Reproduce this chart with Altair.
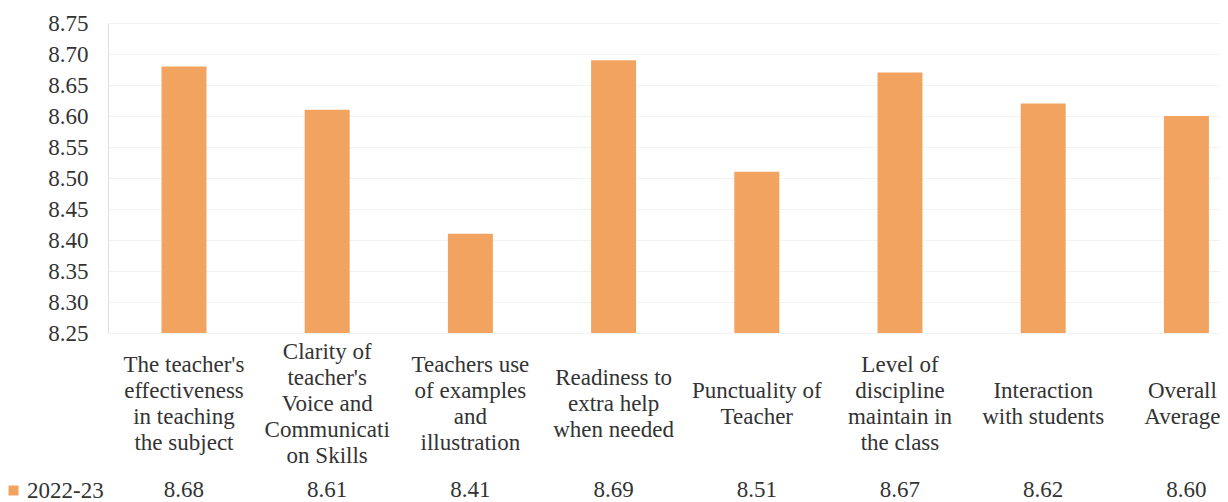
import altair as alt
import pandas as pd

categories = [
    "The teacher's\neffectiveness\nin teaching\nthe subject",
    "Clarity of\nteacher's\nVoice and\nCommunicati\non Skills",
    "Teachers use\nof examples\nand\nillustration",
    "Readiness to\nextra help\nwhen needed",
    "Punctuality of\nTeacher",
    "Level of\ndiscipline\nmaintain in\nthe class",
    "Interaction\nwith students",
    "Overall\nAverage",
]
values = [8.68, 8.61, 8.41, 8.69, 8.51, 8.67, 8.62, 8.60]
series = "2022-23"
y_ticks = [8.25, 8.30, 8.35, 8.40, 8.45, 8.50, 8.55, 8.60, 8.65, 8.70, 8.75]
Y_MIN, Y_MAX = 8.25, 8.75

df = pd.DataFrame({
    "cat": categories,
    "value": values,
    "series": [series] * len(values),
    "label": [f"{v:.2f}" for v in values],
})

# one row per label line, so each multi-line label is centred vertically
LINE_H = 26
rows = []
for k, c in enumerate(categories):
    parts = c.split("\n")
    n = len(parts)
    for i, p in enumerate(parts):
        rows.append({"cat": c, "line": p, "off": (i - (n - 1) / 2) * LINE_H,
                     "last": k == len(categories) - 1})
lines_df = pd.DataFrame(rows)

FONT = "Liberation Serif"
TXT = "#333333"
BAR = "#F1A35F"

x_enc = alt.X(
    "cat:N",
    sort=categories,
    axis=None,
    scale=alt.Scale(paddingInner=0.686, paddingOuter=0.2256, align=0.828),
)

bars = alt.Chart(df).mark_bar().encode(
    x=x_enc,
    y=alt.Y(
        "value:Q",
        scale=alt.Scale(domain=[Y_MIN, Y_MAX], zero=False, nice=False),
        axis=alt.Axis(
            values=y_ticks,
            format=".2f",
            title=None,
            ticks=False,
            domain=False,
            grid=True,
            gridColor="#f3f3f3",
            gridWidth=1,
            labelFont=FONT,
            labelFontSize=23,
            labelColor=TXT,
            labelPadding=20,
        ),
    ),
    y2=alt.datum(Y_MIN),
    color=alt.Color(
        "series:N",
        scale=alt.Scale(domain=[series], range=[BAR]),
        legend=alt.Legend(
            title=None,
            orient="none",
            legendX=-106,
            legendY=456,
            symbolType="square",
            symbolSize=100,
            symbolStrokeWidth=0,
            labelFont=FONT,
            labelFontSize=23,
            labelColor=TXT,
            labelOffset=2,
            padding=0,
        ),
    ),
)

text_style = dict(font=FONT, fontSize=23, color=TXT, baseline="middle", align="center")
label_enc = dict(
    x=x_enc,
    y=alt.value(381),
    yOffset=alt.YOffset("off:Q", scale=None),
    text="line:N",
)

cat_labels = alt.Chart(lines_df).transform_filter("!datum.last").mark_text(
    **text_style
).encode(**label_enc)

# right-most label nudged slightly so it stays inside the canvas
last_label = alt.Chart(lines_df).transform_filter("datum.last").mark_text(
    dx=-4, **text_style
).encode(**label_enc)

val_labels = alt.Chart(df).mark_text(**text_style).encode(
    x=x_enc,
    y=alt.value(467),
    text="label:N",
)

chart = alt.layer(bars, cat_labels, last_label, val_labels).properties(
    width=1112,
    height=310,
    autosize=alt.AutoSizeParams(type="none"),
    padding={"left": 100, "top": 15, "right": 0, "bottom": 169},
).configure_view(stroke=None).configure(background="white")

chart.save("out.html", embed_options={"renderer": "svg", "actions": False})
